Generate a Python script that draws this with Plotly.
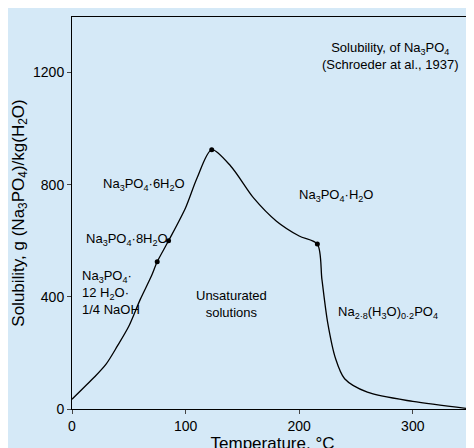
import plotly.graph_objects as go

# solubility curve
temp = [0, 10, 20, 30, 40, 50, 60, 70, 75, 85, 100, 110, 123, 140, 160, 180, 200, 216,
        220, 225, 232, 240, 260, 300, 352]
solub = [35, 75, 115, 160, 225, 295, 390, 475, 525, 600, 718, 823, 925, 865, 752, 670, 617, 588,
         462, 310, 180, 108, 60, 27, 0]

# transition points
pt_temp = [75, 85, 123, 216]
pt_solub = [525, 600, 925, 588]

fig = go.Figure()
fig.add_trace(go.Scatter(x=temp, y=solub, mode='lines', line=dict(color='black', width=1.3, shape='spline', smoothing=0.8)))
fig.add_trace(go.Scatter(x=pt_temp, y=pt_solub, mode='markers', marker=dict(color='black', size=5)))

labels = [
    (48, 605, 'Na<sub>3</sub>PO<sub>4</sub>·8H<sub>2</sub>O', 'center'),
    (63, 800, 'Na<sub>3</sub>PO<sub>4</sub>·6H<sub>2</sub>O', 'center'),
    (7, 415, 'Na<sub>3</sub>PO<sub>4</sub>·<br>12 H<sub>2</sub>O·<br>1/4 NaOH', 'left'),
    (140, 375, 'Unsaturated<br>solutions', 'center'),
    (232, 760, 'Na<sub>3</sub>PO<sub>4</sub>·H<sub>2</sub>O', 'center'),
    (278, 345, 'Na<sub>2·8</sub>(H<sub>3</sub>O)<sub>0·2</sub>PO<sub>4</sub>', 'center'),
    (280, 1260, 'Solubility, of Na<sub>3</sub>PO<sub>4</sub><br>(Schroeder at al., 1937)', 'center'),
]
for x, y, t, a in labels:
    fig.add_annotation(x=x, y=y, text=t, showarrow=False, align=a,
                       xanchor='left' if a == 'left' else 'center',
                       font=dict(size=13, color='black'))

fig.update_xaxes(range=[0, 353], tickvals=[0, 100, 200, 300], ticks='outside', ticklen=4,
                 showgrid=False, zeroline=False, showline=True, mirror=True, linecolor='black',
                 title=dict(text='Temperature, °C', standoff=2))
fig.update_yaxes(range=[0, 1398], tickvals=[0, 400, 800, 1200], ticks='outside', ticklen=4,
                 showgrid=False, zeroline=False, showline=True, mirror=True, linecolor='black',
                 title=dict(text='Solubility, g (Na<sub>3</sub>PO<sub>4</sub>)/kg(H<sub>2</sub>O)', standoff=4))
fig.update_layout(width=474, height=448, margin=dict(l=64, r=8, t=9, b=44),
                  paper_bgcolor='#d5e9f7', plot_bgcolor='#d5e9f7', showlegend=False,
                  font=dict(family='Liberation Sans, Arial', size=14, color='black'))
fig.write_html('out.html')
